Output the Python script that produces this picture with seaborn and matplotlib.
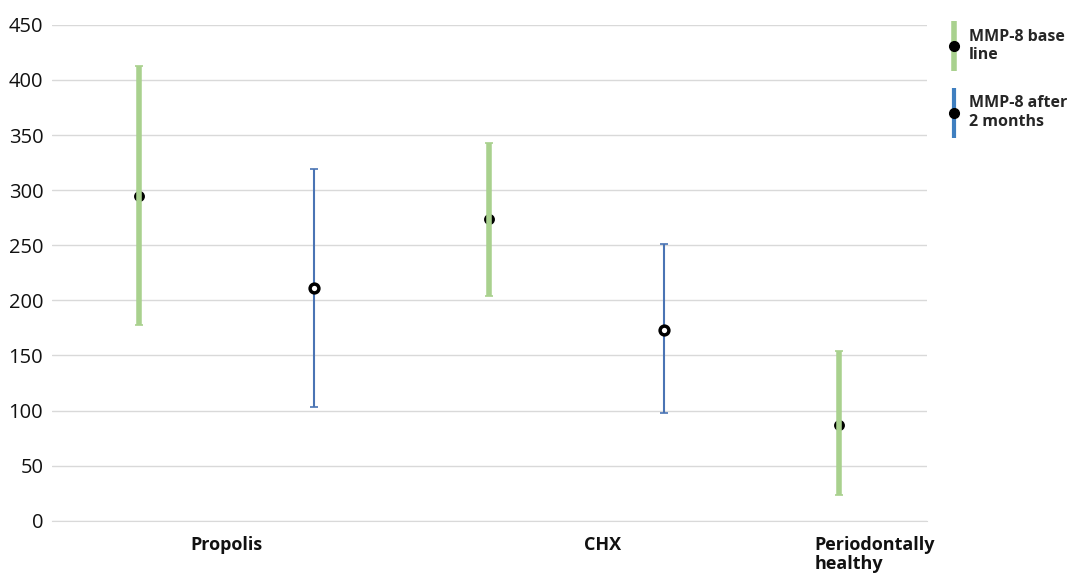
import pandas as pd
import matplotlib.pyplot as plt
import seaborn as sns
from matplotlib.lines import Line2D

# values
groups = ["Propolis", "CHX", "Periodontally\nhealthy"]
series = ["MMP-8 base\nline", "MMP-8 after\n2 months", "MMP-8 base\nline", "MMP-8 after\n2 months", "MMP-8 base\nline"]
means = [295, 211, 274, 173, 87]
lows = [178, 103, 204, 98, 23]
highs = [413, 319, 343, 251, 154]

df = pd.DataFrame({"series": series, "mean": means, "low": lows, "high": highs})
df["pos"] = range(len(df))

green = "#A9D18E"
blue = "#4A74B4"

sns.set_style("white")
plt.rcParams["font.family"] = ["Open Sans", "DejaVu Sans"]

fig = plt.figure(figsize=(10.75, 5.78), dpi=100)
ax = fig.add_axes([0.048, 0.099, 0.814, 0.858])

# error bars
for name, col, lw, z in [("MMP-8 base\nline", green, 4, 4), ("MMP-8 after\n2 months", blue, 1.5, 2)]:
    sub = df[df["series"] == name]
    err = [sub["mean"] - sub["low"], sub["high"] - sub["mean"]]
    eb = ax.errorbar(sub["pos"], sub["mean"], yerr=err, fmt="none", ecolor=col,
                     elinewidth=lw, capsize=3, capthick=1.2, zorder=z)
    for cap in eb[1]:
        cap.set_color(blue)

# markers
base = df[df["series"] == "MMP-8 base\nline"]
after = df[df["series"] == "MMP-8 after\n2 months"]
sns.scatterplot(data=base, x="pos", y="mean", color="black", edgecolor="black",
                s=40, linewidth=1.5, ax=ax, zorder=3, legend=False)
sns.scatterplot(data=after, x="pos", y="mean", color="white", edgecolor="black",
                s=40, linewidth=2.5, ax=ax, zorder=5, legend=False)

ax.set_xlim(-0.5, 4.5)
ax.set_ylim(0, 450)
ax.set_yticks(range(0, 451, 50))
ax.yaxis.grid(True, color="#D9D9D9", linewidth=1)
ax.set_axisbelow(True)
for s in ["top", "right", "left"]:
    ax.spines[s].set_visible(False)
ax.spines["bottom"].set_color("#D9D9D9")
ax.tick_params(axis="both", length=0, colors="#111111")
ax.tick_params(axis="y", pad=6, labelsize=14.5)

ax.set_xticks([0.5, 2.65, 3.86])
ax.set_xticklabels(groups, fontweight="bold", fontsize=13, linespacing=1.1)
ax.tick_params(axis="x", pad=11)
labs = ax.get_xticklabels()
labs[2].set_horizontalalignment("left")
labs[2].set_multialignment("left")
ax.set_xlabel("")
ax.set_ylabel("")

handles = [
    (Line2D([], [], marker="|", markersize=36, mew=4, color=green, linestyle="None"),
     Line2D([], [], marker="o", markersize=7, color="black", linestyle="None")),
    (Line2D([], [], marker="|", markersize=36, mew=3, color="#3F7FC0", linestyle="None"),
     Line2D([], [], marker="o", markersize=7, color="black", linestyle="None")),
]
fig.legend(handles, ["MMP-8 base\nline", "MMP-8 after\n2 months"], loc="upper left",
           bbox_to_anchor=(0.87, 0.975), frameon=False, labelspacing=2.0,
           handlelength=0.6, handletextpad=0.6, prop={"weight": "bold", "size": 11.5})

fig.savefig("out.png", dpi=100, facecolor="white")
